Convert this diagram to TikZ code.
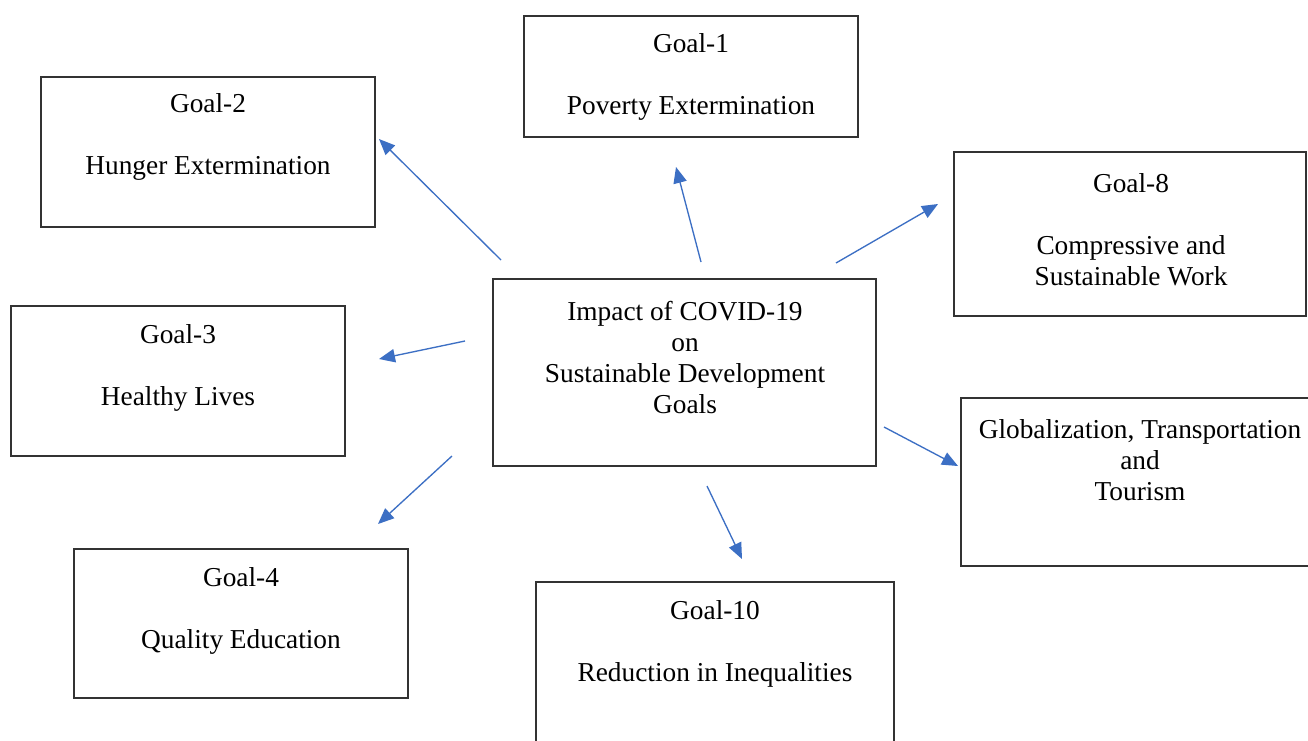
\documentclass[tikz,border=0pt]{standalone}
\usepackage{fontspec}
\setmainfont{Liberation Serif}
\usetikzlibrary{arrows.meta}
\definecolor{arrowblue}{HTML}{3C6FC4}
\definecolor{boxline}{HTML}{333333}
\tikzset{
  box/.style={draw=boxline, line width=1pt, inner sep=0pt, rectangle},
  txt/.style={align=center, inner sep=0pt, font=\fontsize{20.5}{23.25}\selectfont, text=black},
  conn/.style={draw=arrowblue, line width=1pt, -{Triangle[length=12pt,width=10pt]}}
}
\begin{document}
\begin{tikzpicture}[x=0.75pt,y=-0.75pt]
\useasboundingbox (0,0) rectangle (1308,740);
\fill[white] (0,0) rectangle (1308,740);
% boxes
\node[box, minimum width=334*0.75pt, minimum height=121*0.75pt] (g1) at (691,76.5) {};
\node[box, minimum width=334*0.75pt, minimum height=150*0.75pt] (g2) at (208,152) {};
\node[box, minimum width=352*0.75pt, minimum height=164*0.75pt] (g8) at (1130,234) {};
\node[box, minimum width=334*0.75pt, minimum height=150*0.75pt] (g3) at (178,381) {};
\node[box, minimum width=383*0.75pt, minimum height=187*0.75pt] (c) at (684.5,372.5) {};
\node[box, minimum width=359*0.75pt, minimum height=168*0.75pt] (gt) at (1140.5,482) {};
\node[box, minimum width=334*0.75pt, minimum height=149*0.75pt] (g4) at (241,623.5) {};
\node[box, minimum width=358*0.75pt, minimum height=178*0.75pt] (g10) at (715,671) {};
% texts
\node[txt] (g1t) at (691,77) {Goal-1\\[23.25pt]Poverty Extermination};
\node[txt] (g2t) at (208,137) {Goal-2\\[23.25pt]Hunger Extermination};
\node[txt] (g8t) at (1131,230) {Goal-8\\[23.25pt]Compressive and\\Sustainable Work};
\node[txt] (g3t) at (178,367.5) {Goal-3\\[23.25pt]Healthy Lives};
\node[txt] (ct) at (685,357) {Impact of COVID-19\\on\\Sustainable Development\\Goals};
\node[txt] (gtt) at (1140,460) {Globalization, Transportation\\and\\Tourism};
\node[txt] (g4t) at (241,610.5) {Goal-4\\[23.25pt]Quality Education};
\node[txt] (g10t) at (715,643.5) {Goal-10\\[23.25pt]Reduction in Inequalities};
% arrow endpoints
\coordinate (s2) at (501,260); \coordinate (e2) at (379,139);
\coordinate (s1) at (701,262); \coordinate (e1) at (676,167);
\coordinate (s8) at (836,263); \coordinate (e8) at (938,204);
\coordinate (s3) at (465,341); \coordinate (e3) at (379,359);
\coordinate (s4) at (452,456); \coordinate (e4) at (378,524);
\coordinate (s10) at (707,486); \coordinate (e10) at (742,559);
\coordinate (st) at (884,427); \coordinate (et) at (958,466);
\draw[conn] (s2) -- (e2);
\draw[conn] (s1) -- (e1);
\draw[conn] (s8) -- (e8);
\draw[conn] (s3) -- (e3);
\draw[conn] (s4) -- (e4);
\draw[conn] (s10) -- (e10);
\draw[conn] (st) -- (et);
\end{tikzpicture}
\end{document}
